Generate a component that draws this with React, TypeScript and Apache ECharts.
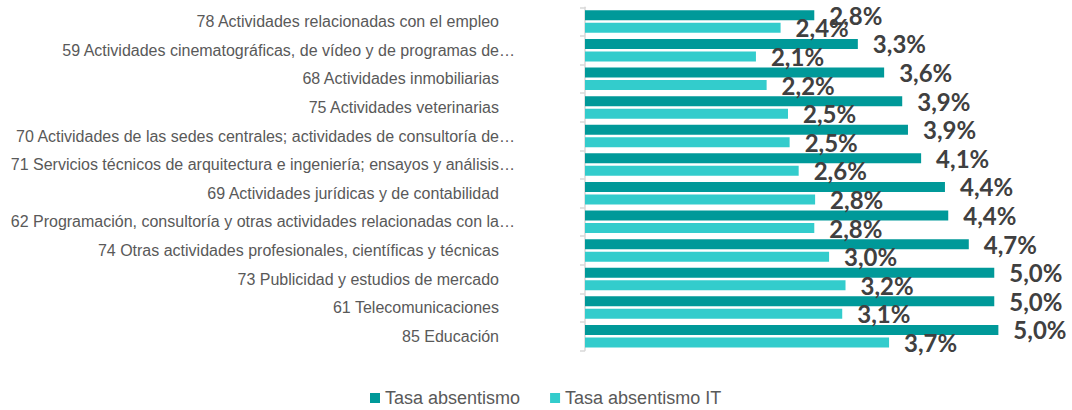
import React, { useEffect, useRef } from "react";
import * as echarts from "echarts";

const categories = [
  "78 Actividades relacionadas con el empleo",
  "59 Actividades cinematográficas, de vídeo y de programas de…",
  "68 Actividades inmobiliarias",
  "75 Actividades veterinarias",
  "70 Actividades de las sedes centrales; actividades de consultoría de…",
  "71 Servicios técnicos de arquitectura e ingeniería; ensayos y análisis…",
  "69 Actividades jurídicas y de contabilidad",
  "62 Programación, consultoría y otras actividades relacionadas con la…",
  "74 Otras actividades profesionales, científicas y técnicas",
  "73 Publicidad y estudios de mercado",
  "61 Telecomunicaciones",
  "85 Educación",
];

const tasaAbsentismo = [2.79, 3.32, 3.64, 3.86, 3.93, 4.09, 4.38, 4.42, 4.67, 4.98, 4.98, 5.03];
const tasaAbsentismoIT = [2.38, 2.08, 2.21, 2.47, 2.49, 2.6, 2.8, 2.79, 2.97, 3.17, 3.13, 3.7];

const seriesNames = ["Tasa absentismo", "Tasa absentismo IT"];
const colors = ["#009999", "#33CCCC"];

const fmt = (v: number) => v.toFixed(1).replace(".", ",") + "%";

export default function App() {
  const ref = useRef<HTMLDivElement>(null);
  useEffect(() => {
    if (!ref.current) return;
    const chart = echarts.init(ref.current, undefined, { renderer: "svg" });
    const labelStyle = {
      show: true,
      position: "right",
      distance: 15,
      fontSize: 24,
      fontWeight: "bold",
      fontFamily: "Lato, 'Open Sans', sans-serif",
      color: "#404040",
      formatter: (p: any) => fmt(p.value),
    };
    chart.setOption({
      animation: false,
      grid: { left: 585, right: 35, top: 7.3, bottom: 59.5, containLabel: false },
      legend: {
        left: 365,
        top: 384,
        itemWidth: 10,
        itemHeight: 10,
        itemGap: 30,
        icon: "rect",
        textStyle: { fontSize: 18, color: "#595959", fontFamily: "'Liberation Sans', Arial, sans-serif" },
        data: seriesNames,
      },
      xAxis: {
        type: "value",
        min: 0,
        max: 5.5,
        show: false,
      },
      yAxis: {
        type: "category",
        inverse: true,
        data: categories,
        axisLine: { show: true, lineStyle: { color: "#D9D9D9", width: 1.5 } },
        axisTick: { show: true, length: 5, lineStyle: { color: "#D9D9D9", width: 1.5 } },
        axisLabel: {
          margin: 70,
          fontSize: 16,
          color: "#595959",
          fontFamily: "'Liberation Sans', Arial, sans-serif",
          formatter: (v: string) => (v.endsWith("…") ? `{e|${v}}` : `{n|${v}}`),
          rich: {
            e: { fontSize: 16, color: "#595959", fontFamily: "'Liberation Sans', Arial, sans-serif" },
            n: { fontSize: 16, color: "#595959", fontFamily: "'Liberation Sans', Arial, sans-serif", padding: [0, 16, 0, 0] },
          },
        },
        splitLine: { show: false },
      },
      series: [
        {
          name: seriesNames[0],
          type: "bar",
          data: tasaAbsentismo,
          barWidth: 10,
          barGap: "25%",
          itemStyle: { color: colors[0] },
          label: labelStyle,
        },
        {
          name: seriesNames[1],
          type: "bar",
          data: tasaAbsentismoIT,
          barWidth: 10,
          barGap: "25%",
          itemStyle: { color: colors[1] },
          label: labelStyle,
        },
      ],
    });
    return () => chart.dispose();
  }, []);
  return (
    <div
      ref={ref}
      style={{ position: "absolute", left: 0, top: 0, width: 1072, height: 410, background: "#fff" }}
    />
  );
}
